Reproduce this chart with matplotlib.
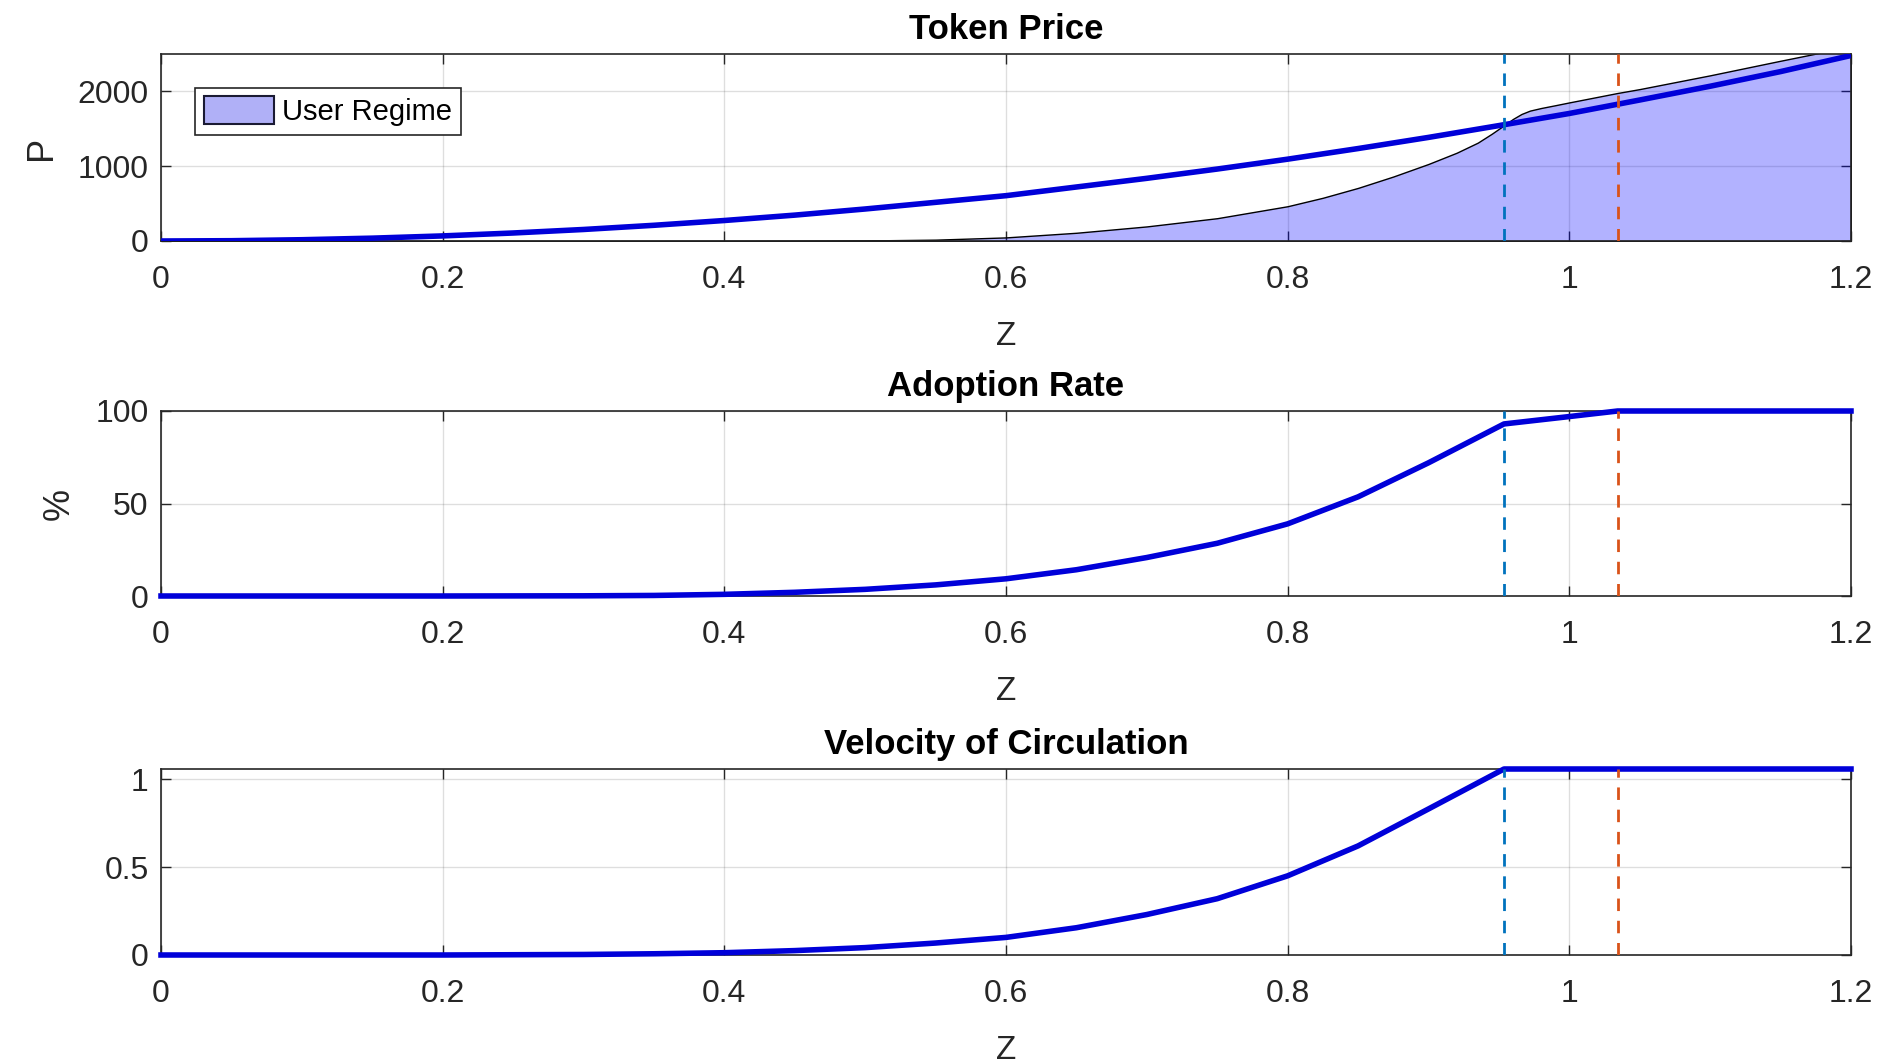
import matplotlib
matplotlib.use("Agg")
import matplotlib.pyplot as plt
from matplotlib.patches import Patch

plt.rcParams['font.family'] = ['Liberation Sans', 'DejaVu Sans']

# ---- data ----
z_price = [0, 0.05, 0.1, 0.15, 0.2, 0.25, 0.3, 0.35, 0.4, 0.45, 0.5, 0.55, 0.6,
           0.65, 0.7, 0.75, 0.8, 0.85, 0.9, 0.95, 1.0, 1.05, 1.1, 1.15, 1.2]
price = [0, 4, 17, 38, 68, 107, 154, 210, 274, 346, 428, 517, 606,
         722, 838, 962, 1094, 1236, 1385, 1543, 1705, 1885, 2069, 2265, 2480]

z_user = [0, 0.1, 0.2, 0.3, 0.4, 0.45, 0.5, 0.55, 0.6, 0.65, 0.7, 0.75, 0.8,
          0.825, 0.85, 0.875, 0.9, 0.92, 0.935, 0.945, 0.9536, 0.96, 0.966,
          0.972, 0.98, 0.99, 1.0, 1.034, 1.05, 1.1, 1.15, 1.2]
user_price = [0, 0, 0, 0, 1, 3, 7, 18, 48, 110, 195, 305, 465,
              578, 710, 862, 1030, 1180, 1315, 1435, 1547, 1632, 1698,
              1743, 1778, 1815, 1853, 1978, 2031, 2215, 2410, 2600]

z_adopt = [0, 0.1, 0.2, 0.3, 0.35, 0.4, 0.45, 0.5, 0.55, 0.6, 0.65, 0.7, 0.75,
           0.8, 0.85, 0.9, 0.9536, 1.0, 1.0343, 1.2]
adoption = [0, 0, 0, 0.1, 0.3, 0.9, 2.0, 3.6, 6.0, 9.3, 14.2, 20.8, 28.5,
            39, 53.6, 72, 93, 97, 100, 100]

z_vel = [0, 0.1, 0.2, 0.3, 0.35, 0.4, 0.45, 0.5, 0.55, 0.6, 0.65, 0.7, 0.75,
         0.8, 0.85, 0.9, 0.9536, 1.2]
velocity = [0, 0, 0, 0.003, 0.007, 0.013, 0.025, 0.042, 0.068, 0.10, 0.155,
            0.23, 0.32, 0.45, 0.62, 0.83, 1.057, 1.057]

z_thresh1 = 0.9536
z_thresh2 = 1.0343

xticks = [0, 0.2, 0.4, 0.6, 0.8, 1.0, 1.2]
xticklabels = ['0', '0.2', '0.4', '0.6', '0.8', '1', '1.2']

titles = ['Token Price', 'Adoption Rate', 'Velocity of Circulation']
ylabels = ['P', '%', '']
yticks = [[0, 1000, 2000], [0, 50, 100], [0, 0.5, 1]]
yticklabels = [['0', '1000', '2000'], ['0', '50', '100'], ['0', '0.5', '1']]
ylims = [(0, 2500), (0, 100), (0, 1.057)]

# ---- figure ----
W, H = 1885, 1064
fig = plt.figure(figsize=(W / 100, H / 100), dpi=100)

left = 161 / W
width = (1851 - 161) / W
boxes = [(54, 241), (411, 596), (769, 955)]

BLUE = (0.0, 0.0, 0.85)
C1 = (0.0, 0.447, 0.741)
C2 = (0.85, 0.325, 0.098)
TXT = (0.15, 0.15, 0.15)

axes = []
for (top, bot) in boxes:
    ax = fig.add_axes([left, 1 - bot / H, width, (bot - top) / H])
    axes.append(ax)

# Top panel
ax = axes[0]
ax.fill_between(z_user, user_price, 0, facecolor=(0.0, 0.0, 1.0, 0.3),
                edgecolor='black', linewidth=1.0, zorder=2, label='User Regime')
ax.plot(z_price, price, color=BLUE, linewidth=4.0, zorder=3, solid_capstyle='butt')

axes[1].plot(z_adopt, adoption, color=BLUE, linewidth=4.0, zorder=3, clip_on=False)
axes[2].plot(z_vel, velocity, color=BLUE, linewidth=4.0, zorder=3, clip_on=False)

for i, ax in enumerate(axes):
    ax.axvline(z_thresh1, color=C1, linestyle=(0, (4.5, 3.5)), linewidth=2.0, zorder=4)
    ax.axvline(z_thresh2, color=C2, linestyle=(0, (4.5, 3.5)), linewidth=2.0, zorder=4)
    ax.set_xlim(0, 1.2)
    ax.set_ylim(*ylims[i])
    ax.set_xticks(xticks)
    ax.set_xticklabels(xticklabels)
    ax.set_yticks(yticks[i])
    ax.set_yticklabels(yticklabels[i])
    ax.grid(True, color=(0.15, 0.15, 0.15), alpha=0.15, linewidth=1.0)
    ax.set_axisbelow(True)
    ax.tick_params(direction='in', length=7, width=1.0, colors=TXT,
                   labelsize=23, top=True, right=True)
    ax.tick_params(axis='x', pad=17)
    ax.tick_params(axis='y', pad=9)
    for s in ax.spines.values():
        s.set_color(TXT)
        s.set_linewidth(1.2)
    ax.set_title(titles[i], fontsize=25, fontweight='bold', pad=11, color='black')
    ax.set_xlabel('Z', fontsize=24, color=TXT, labelpad=19)
    if ylabels[i]:
        ax.set_ylabel(ylabels[i], fontsize=26, color=TXT, labelpad=13)

leg = axes[0].legend(handles=[Patch(facecolor=(0.69, 0.69, 0.97), edgecolor=(0.1, 0.1, 0.2),
                                     linewidth=1.5, label='User Regime')],
                     loc='upper left', bbox_to_anchor=(0.02, 0.82), fontsize=21,
                     frameon=True, fancybox=False, edgecolor=TXT, framealpha=1,
                     handlelength=2.4, handleheight=1.1, handletextpad=0.3,
                     borderpad=0.3, borderaxespad=0)
leg.get_frame().set_linewidth(1.2)

fig.savefig('out.png', dpi=100, facecolor='white')
